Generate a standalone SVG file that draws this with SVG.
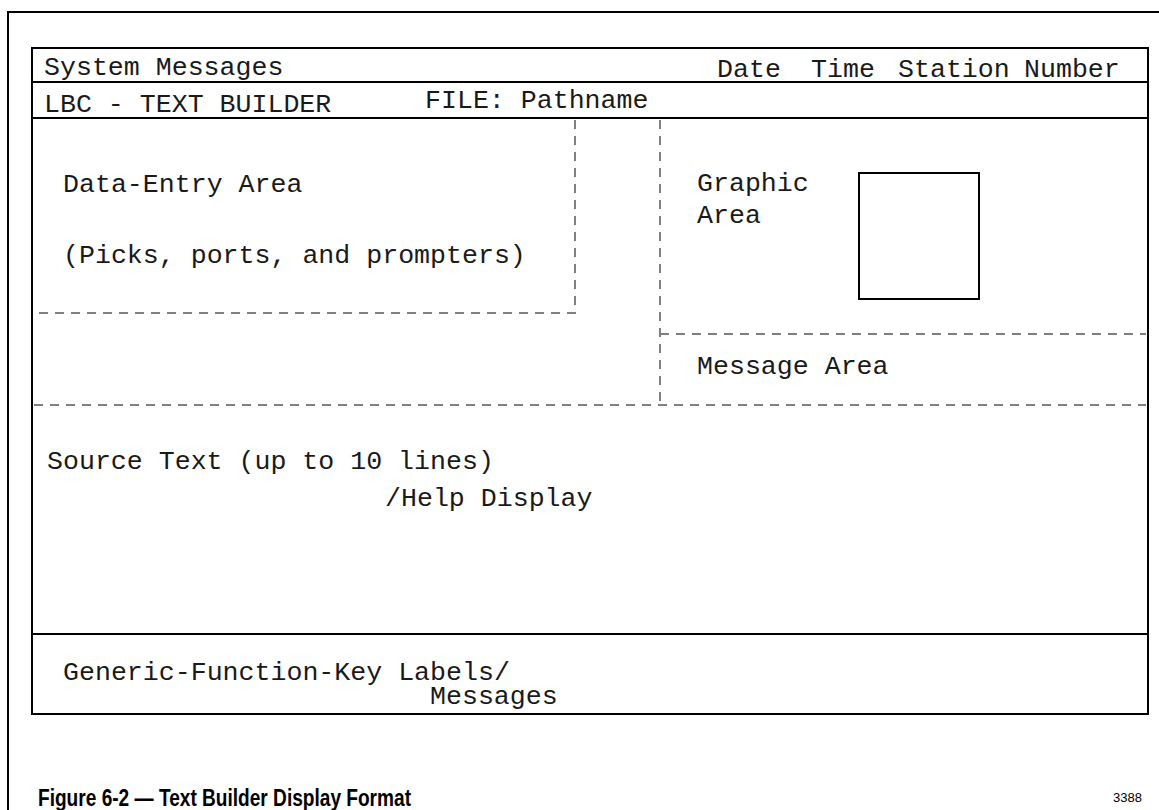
<svg xmlns="http://www.w3.org/2000/svg" width="1159" height="810" viewBox="0 0 1159 810">
<style>
.mono{font-family:"Liberation Mono","DejaVu Sans Mono",monospace;font-size:26.6px;fill:#1a1a1a}
.solid{fill:none;stroke:#000;stroke-width:2}
.dash{fill:none;stroke:#808080;stroke-width:2;stroke-dasharray:9 7}
.cap{font-family:"Liberation Sans",Arial,sans-serif;font-weight:bold;fill:#000}
</style>
<rect width="1159" height="810" fill="#fff"/>
<g id="frame">
<path class="solid" d="M8 810 V12 H1159"/>
</g>
<g id="screen">
<rect class="solid" x="32" y="48" width="1116" height="666"/>
<line class="solid" x1="32" y1="82" x2="1148" y2="82"/>
<line class="solid" x1="32" y1="118" x2="1148" y2="118"/>
<line class="solid" x1="32" y1="634" x2="1148" y2="634"/>
</g>
<g id="connectors">
<path class="dash" d="M575 120 V313 H34"/>
<path class="dash" d="M660 120 V405"/>
<path class="dash" d="M660 334 H1146"/>
<path class="dash" d="M34 405 H1146"/>
</g>
<g id="system-messages"><text class="mono" x="44" y="75">System Messages</text></g>
<g id="date-time-station">
<text class="mono" x="717" y="77">Date</text>
<text class="mono" x="811" y="77">Time</text>
<text class="mono" x="898" y="77">Station</text>
<text class="mono" x="1024" y="77">Number</text>
</g>
<g id="title-line">
<text class="mono" x="44" y="112">LBC - TEXT BUILDER</text>
<text class="mono" x="425" y="108">FILE: Pathname</text>
</g>
<g id="data-entry-area">
<text class="mono" x="63" y="192">Data-Entry Area</text>
<text class="mono" x="63" y="263">(Picks, ports, and prompters)</text>
</g>
<g id="graphic-area">
<text class="mono" x="697" y="191">Graphic</text>
<text class="mono" x="697" y="223">Area</text>
<rect class="solid" x="859" y="173" width="120" height="126"/>
</g>
<g id="message-area"><text class="mono" x="697" y="374">Message Area</text></g>
<g id="source-text">
<text class="mono" x="47" y="469">Source Text (up to 10 lines)</text>
<text class="mono" x="385" y="506">/Help Display</text>
</g>
<g id="function-keys">
<text class="mono" x="63" y="680">Generic-Function-Key Labels/</text>
<text class="mono" x="430" y="704">Messages</text>
</g>
<g id="caption">
<text class="cap" x="38" y="806" font-size="23" textLength="373" lengthAdjust="spacingAndGlyphs">Figure 6-2 — Text Builder Display Format</text>
<text x="1142" y="802" font-family="'Liberation Sans',Arial,sans-serif" font-size="13" text-anchor="end" fill="#000">3388</text>
</g>
</svg>
